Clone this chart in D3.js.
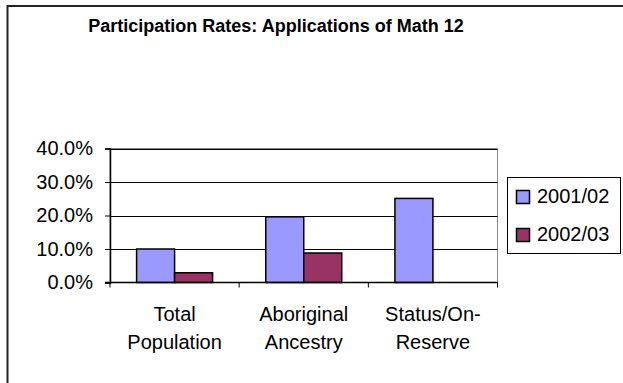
<!DOCTYPE html>
<html>
<head>
<meta charset="utf-8">
<script src="https://cdn.jsdelivr.net/npm/d3@7"></script>
<style>
  html, body { margin: 0; padding: 0; background: #fff; }
  svg { display: block; font-family: Arial, "Liberation Sans", sans-serif; }
</style>
</head>
<body>
<svg id="chart" width="623" height="383"></svg>
<script>
// Participation rates (%) by population group
const categories = [["Total", "Population"], ["Aboriginal", "Ancestry"], ["Status/On-", "Reserve"]];
const seriesNames = ["2001/02", "2002/03"];
const rates2001 = [10.0, 19.6, 25.1];
const rates2002 = [2.9, 8.8, null];
const yTicks = [0, 10, 20, 30, 40];
const seriesColors = ["#9999FF", "#993366"];

const svg = d3.select("#chart");

// outer chart frame (right and bottom edges run past the page)
svg.append("rect")
  .attr("x", 7.5).attr("y", 6)
  .attr("width", 640).attr("height", 400)
  .attr("fill", "#fff").attr("stroke", "#222").attr("stroke-width", 2);

svg.append("text")
  .attr("x", 276).attr("y", 32)
  .attr("text-anchor", "middle")
  .attr("font-weight", "bold")
  .attr("font-size", 18)
  .attr("fill", "#000")
  .text("Participation Rates: Applications of Math 12");

const plot = { left: 110, right: 497.5, top: 148.5, bottom: 282.5 };

const x = d3.scaleBand()
  .domain(d3.range(categories.length))
  .range([plot.left, plot.right]);

const xSeries = d3.scaleBand()
  .domain(seriesNames)
  .range([0, x.bandwidth()])
  .paddingOuter(0.7);

const y = d3.scaleLinear().domain([0, 40]).range([plot.bottom, plot.top]);

// plot area border
svg.append("rect")
  .attr("x", plot.left).attr("y", plot.top)
  .attr("width", plot.right - plot.left).attr("height", plot.bottom - plot.top)
  .attr("fill", "#fff").attr("stroke", "#888").attr("stroke-width", 1);

// gridlines
svg.append("g")
  .selectAll("line")
  .data(yTicks.filter(t => t > 0))
  .join("line")
  .attr("x1", plot.left).attr("x2", plot.right)
  .attr("y1", d => Math.round(y(d)) + 0.5).attr("y2", d => Math.round(y(d)) + 0.5)
  .attr("stroke", "#000").attr("stroke-width", 1);

// bars
const series = [rates2001, rates2002];
series.forEach((vals, si) => {
  svg.append("g")
    .selectAll("rect")
    .data(vals.map((v, i) => ({ v, i })).filter(d => d.v != null))
    .join("rect")
    .attr("x", d => x(d.i) + xSeries(seriesNames[si]))
    .attr("y", d => y(d.v))
    .attr("width", xSeries.bandwidth())
    .attr("height", d => y(0) - y(d.v))
    .attr("fill", seriesColors[si])
    .attr("stroke", "#000")
    .attr("stroke-width", 1.5);
});

// y axis
const yAxis = d3.axisLeft(y)
  .tickValues(yTicks)
  .tickSize(5)
  .tickPadding(12)
  .tickFormat(d => d3.format(".1f")(d) + "%");
const gy = svg.append("g").attr("transform", `translate(${plot.left},0)`).call(yAxis);
gy.select(".domain").attr("stroke", "#000").attr("stroke-width", 1.5);
gy.selectAll(".tick line").attr("stroke", "#000");
gy.selectAll(".tick text")
  .attr("font-size", 20)
  .attr("fill", "#000")
  .attr("font-family", "Arial, 'Liberation Sans', sans-serif");

// x axis: baseline with ticks at category boundaries
svg.append("line")
  .attr("x1", plot.left - 5).attr("x2", plot.right)
  .attr("y1", plot.bottom).attr("y2", plot.bottom)
  .attr("stroke", "#000").attr("stroke-width", 1.5);
svg.append("g")
  .selectAll("line")
  .data(d3.range(categories.length + 1))
  .join("line")
  .attr("x1", i => i < categories.length ? x(i) : plot.right)
  .attr("x2", i => i < categories.length ? x(i) : plot.right)
  .attr("y1", plot.bottom).attr("y2", plot.bottom + 5)
  .attr("stroke", "#000").attr("stroke-width", 1);

// category labels
svg.append("g")
  .selectAll("text")
  .data(categories)
  .join("text")
  .attr("x", (d, i) => x(i) + x.bandwidth() / 2)
  .attr("y", 321)
  .attr("text-anchor", "middle")
  .attr("font-size", 20)
  .attr("fill", "#000")
  .selectAll("tspan")
  .data(d => d)
  .join("tspan")
  .attr("x", function () { return this.parentNode.getAttribute("x"); })
  .attr("dy", (d, j) => j === 0 ? 0 : 28)
  .text(d => d);

// legend
const legend = svg.append("g");
legend.append("rect")
  .attr("x", 507.5).attr("y", 177.5)
  .attr("width", 113).attr("height", 76)
  .attr("fill", "#fff").attr("stroke", "#000").attr("stroke-width", 1);
const items = legend.selectAll("g.item")
  .data(seriesNames)
  .join("g")
  .attr("class", "item")
  .attr("transform", (d, i) => `translate(0,${i * 38})`);
items.append("rect")
  .attr("x", 516.5).attr("y", 190.5)
  .attr("width", 13).attr("height", 13)
  .attr("fill", (d, i) => seriesColors[i])
  .attr("stroke", "#000").attr("stroke-width", 1.5);
items.append("text")
  .attr("x", 537).attr("y", 203)
  .attr("font-size", 20)
  .attr("fill", "#000")
  .text(d => d);
</script>
</body>
</html>
